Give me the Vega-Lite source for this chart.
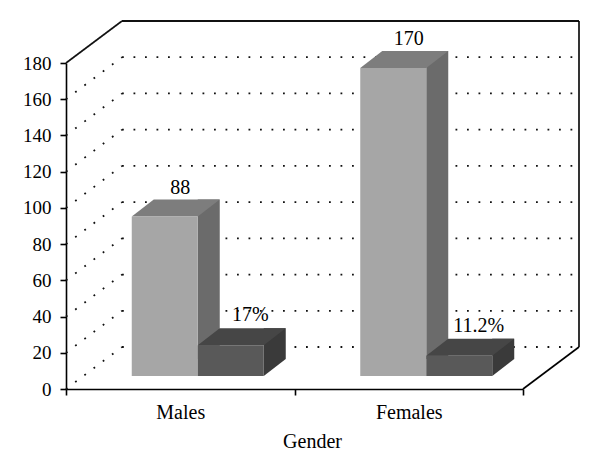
{
  "$schema": "https://vega.github.io/schema/vega-lite/v6.json",
  "width": 457,
  "height": 326,
  "autosize": {"type": "none"},
  "padding": {"left": 66, "top": 63, "right": 77, "bottom": 86},
  "background": "white",
  "config": {
    "font": "Liberation Serif",
    "view": {"stroke": null},
    "axisX": {
      "tickBand": "extent",
      "tickSize": 6,
      "tickWidth": 1.6,
      "tickColor": "black",
      "domainColor": "black",
      "domainWidth": 1.6,
      "labelFontSize": 20,
      "labelColor": "black",
      "labelDx": 18,
      "labelPadding": 7,
      "labelAngle": 0,
      "titleFontSize": 20,
      "titleFontWeight": "normal",
      "titleColor": "black",
      "titleX": 246,
      "titleY": 58,
      "titleBaseline": "alphabetic",
      "grid": false
    },
    "axisY": {
      "tickSize": 6,
      "tickWidth": 1.6,
      "tickColor": "black",
      "domainColor": "black",
      "domainWidth": 1.6,
      "labelFontSize": 19,
      "labelColor": "black",
      "labelPadding": 9,
      "grid": false
    }
  },
  "datasets": {
    "bars": [
      {"gender": "Males", "series": "Count", "value": 88, "label": "88"},
      {"gender": "Females", "series": "Count", "value": 170, "label": "170"},
      {"gender": "Males", "series": "Percent", "value": 17, "label": "17%"},
      {"gender": "Females", "series": "Percent", "value": 11.2, "label": "11.2%"}
    ],
    "grid": [
      {"value": 0}, {"value": 20}, {"value": 40}, {"value": 60}, {"value": 80},
      {"value": 100}, {"value": 120}, {"value": 140}, {"value": 160}, {"value": 180}
    ]
  },
  "encoding": {
    "x": {
      "field": "gender",
      "type": "nominal",
      "scale": {"domain": ["Males", "Females"], "paddingInner": 0, "paddingOuter": 0},
      "axis": {"title": "Gender"}
    },
    "y": {
      "field": "value",
      "type": "quantitative",
      "scale": {"domain": [0, 180], "nice": false},
      "axis": {"title": null, "values": [0, 20, 40, 60, 80, 100, 120, 140, 160, 180]}
    }
  },
  "layer": [
    {
      "data": {"name": "grid"},
      "mark": {"type": "rule", "strokeWidth": 1.8, "color": "#111111", "xOffset": 56, "x2Offset": 56, "yOffset": -42},
      "encoding": {
        "x": {"datum": "Males", "bandPosition": 0, "axis": {"title": "Gender"}},
        "x2": {"datum": "Females", "bandPosition": 1},
        "strokeDash": {"condition": {"test": "datum.value === 180", "value": [1, 0]}, "value": [1.8, 9.7]},
        "strokeWidth": {"condition": {"test": "datum.value === 180", "value": 1.6}, "value": 1.8}
      }
    },
    {
      "data": {"name": "grid"},
      "mark": {"type": "rule", "strokeWidth": 1.8, "color": "#111111", "x2Offset": 56, "y2Offset": -42},
      "encoding": {
        "x": {"datum": "Males", "bandPosition": 0, "axis": {"title": "Gender"}},
        "x2": {"datum": "Males", "bandPosition": 0},
        "y2": {"field": "value"},
        "strokeDash": {"condition": {"test": "datum.value === 180", "value": [1, 0]}, "value": [1.8, 9.7]},
        "strokeWidth": {"condition": {"test": "datum.value === 180", "value": 1.6}, "value": 1.8}
      }
    },
    {
      "data": {"name": "grid"},
      "transform": [{"filter": "datum.value === 0"}],
      "mark": {"type": "rule", "strokeWidth": 1.6, "color": "black", "xOffset": 56, "yOffset": -42, "y2Offset": -42},
      "encoding": {
        "x": {"datum": "Females", "bandPosition": 1, "axis": {"title": "Gender"}},
        "y2": {"datum": 180}
      }
    },
    {
      "data": {"name": "grid"},
      "transform": [{"filter": "datum.value === 0"}],
      "mark": {"type": "rule", "strokeWidth": 1.6, "color": "black", "x2Offset": 56, "y2Offset": -42},
      "encoding": {
        "x": {"datum": "Females", "bandPosition": 1, "axis": {"title": "Gender"}},
        "x2": {"datum": "Females", "bandPosition": 1},
        "y2": {"field": "value"}
      }
    },
    {
      "data": {"name": "bars"},
      "transform": [{"filter": "datum.series === 'Count'"}],
      "mark": {"type": "bar", "width": 22, "xOffset": 28.5, "yOffset": -30, "y2Offset": -30, "color": "#6b6b6b"},
      "encoding": {"y2": {"datum": 0}}
    },
    {
      "data": {"name": "bars"},
      "transform": [{"filter": "datum.series === 'Count'"}],
      "mark": {"type": "point", "shape": "M-33,0L33,0L55,-17L-11,-17Z", "size": 4, "filled": true, "opacity": 1, "strokeWidth": 0, "color": "#7d7d7d", "xOffset": -15.5, "yOffset": -13}
    },
    {
      "data": {"name": "bars"},
      "transform": [{"filter": "datum.series === 'Count'"}],
      "mark": {"type": "bar", "width": 66, "xOffset": -15.5, "yOffset": -13, "y2Offset": -13, "color": "#a6a6a6"},
      "encoding": {"y2": {"datum": 0}}
    },
    {
      "data": {"name": "bars"},
      "transform": [{"filter": "datum.series === 'Percent'"}],
      "mark": {"type": "bar", "width": 22, "xOffset": 94.5, "yOffset": -30, "y2Offset": -30, "color": "#3a3a3a"},
      "encoding": {"y2": {"datum": 0}}
    },
    {
      "data": {"name": "bars"},
      "transform": [{"filter": "datum.series === 'Percent'"}],
      "mark": {"type": "point", "shape": "M33,0L33,-17L55,-17Z", "size": 4, "filled": true, "opacity": 1, "strokeWidth": 0, "color": "#3a3a3a", "xOffset": 50.5, "yOffset": -13},
      "encoding": {"y": {"datum": 0, "axis": {"title": null, "values": [0, 20, 40, 60, 80, 100, 120, 140, 160, 180]}}}
    },
    {
      "data": {"name": "bars"},
      "transform": [{"filter": "datum.series === 'Percent'"}],
      "mark": {"type": "point", "shape": "M-33,0L33,0L55,-17L-11,-17Z", "size": 4, "filled": true, "opacity": 1, "strokeWidth": 0, "color": "#464646", "xOffset": 50.5, "yOffset": -13}
    },
    {
      "data": {"name": "bars"},
      "transform": [{"filter": "datum.series === 'Percent'"}],
      "mark": {"type": "bar", "width": 66, "xOffset": 50.5, "yOffset": -13, "y2Offset": -13, "color": "#595959"},
      "encoding": {"y2": {"datum": 0}}
    },
    {
      "data": {"name": "bars"},
      "transform": [{"filter": "datum.series === 'Count'"}],
      "mark": {"type": "text", "dy": -36, "baseline": "alphabetic", "align": "center", "fontSize": 20, "color": "black"},
      "encoding": {"text": {"field": "label"}}
    },
    {
      "data": {"name": "bars"},
      "transform": [{"filter": "datum.series === 'Percent'"}],
      "mark": {"type": "text", "dx": 70, "dy": -37, "baseline": "alphabetic", "align": "center", "fontSize": 20, "color": "black"},
      "encoding": {"text": {"field": "label"}}
    }
  ]
}
